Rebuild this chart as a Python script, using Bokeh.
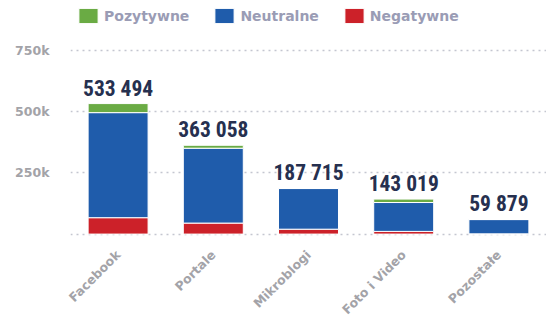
from bokeh.plotting import figure
from bokeh.models import ColumnDataSource, Range1d, FixedTicker, Legend, LegendItem
from bokeh.core.properties import value
from bokeh.embed import file_html
from bokeh.resources import INLINE
import math

categories = ["Facebook", "Portale", "Mikroblogi", "Foto i Video", "Pozostałe"]
pozytywne = [37000, 12000, 1500, 14000, 500]
neutralne = [429494, 306058, 166215, 118019, 58379]
negatywne = [67000, 45000, 20000, 11000, 1000]
totals = [533494, 363058, 187715, 143019, 59879]
y_ticks = [0, 250000, 500000, 750000]
y_tick_labels = ["", "250k", "500k", "750k"]
series_names = ["Pozytywne", "Neutralne", "Negatywne"]

GREEN = "#6aab44"
BLUE = "#1f5cab"
RED = "#cc2129"
NAVY = "#26304f"
GRAY = "#a3a3a8"
LEGEND_GRAY = "#9a9cb5"

source = ColumnDataSource(dict(
    cat=categories,
    neg=negatywne,
    neu=neutralne,
    pos=pozytywne,
    total=totals,
    label=[f"{v:,}".replace(",", " ") for v in totals],
))

p = figure(x_range=categories, y_range=Range1d(-18030, 954918),
           width=546, height=325, output_backend="svg", toolbar_location=None,
           min_border_left=70, min_border_right=0, min_border_top=0,
           min_border_bottom=80)
p.outline_line_color = None
p.background_fill_color = "white"
p.border_fill_color = "white"

renderers = p.vbar_stack(["neg", "neu", "pos"], x="cat", width=0.63, source=source,
                         color=[RED, BLUE, GREEN], line_color="white", line_width=1)

p.text(x="cat", y="total", text="label", source=source,
       text_font=value("Roboto Condensed, Liberation Sans Narrow, DejaVu Sans Condensed, Roboto"),
       text_font_style="bold", text_font_size="21.5px", text_color=NAVY,
       text_align="center", text_baseline="bottom", y_offset=-3)

# axes
p.xaxis.axis_line_color = None
p.xaxis.major_tick_line_color = None
p.xaxis.minor_tick_line_color = None
p.xaxis.major_label_orientation = math.pi / 4
p.xaxis.major_label_text_font = "DejaVu Sans"
p.xaxis.major_label_text_font_style = "bold"
p.xaxis.major_label_text_font_size = "12.5px"
p.xaxis.major_label_text_color = GRAY
p.xaxis.major_label_standoff = 8

p.yaxis.ticker = FixedTicker(ticks=y_ticks)
p.yaxis.major_label_overrides = {t: l for t, l in zip(y_ticks, y_tick_labels)}
p.yaxis.axis_line_color = None
p.yaxis.major_tick_line_color = None
p.yaxis.minor_tick_line_color = None
p.yaxis.major_label_text_font = "DejaVu Sans"
p.yaxis.major_label_text_font_style = "bold"
p.yaxis.major_label_text_font_size = "12.5px"
p.yaxis.major_label_text_color = GRAY
p.yaxis.major_label_standoff = 15

p.xgrid.grid_line_color = None
p.ygrid.grid_line_color = "#c4c6d0"
p.ygrid.grid_line_dash = "2 4"
p.ygrid.grid_line_width = 1.5

legend = Legend(items=[
    LegendItem(label=series_names[0], renderers=[renderers[2]]),
    LegendItem(label=series_names[1], renderers=[renderers[1]]),
    LegendItem(label=series_names[2], renderers=[renderers[0]]),
], orientation="horizontal", location="top_left")
legend.border_line_color = None
legend.background_fill_alpha = 0
legend.padding = 0
legend.margin = 6
legend.spacing = 23
legend.glyph_width = 24
legend.glyph_height = 19
legend.label_standoff = 4
legend.label_height = 19
legend.label_text_font = "DejaVu Sans"
legend.label_text_font_style = "bold"
legend.label_text_font_size = "14px"
legend.label_text_color = LEGEND_GRAY
p.add_layout(legend, "center")

open("out.html", "w").write(file_html(p, INLINE))
